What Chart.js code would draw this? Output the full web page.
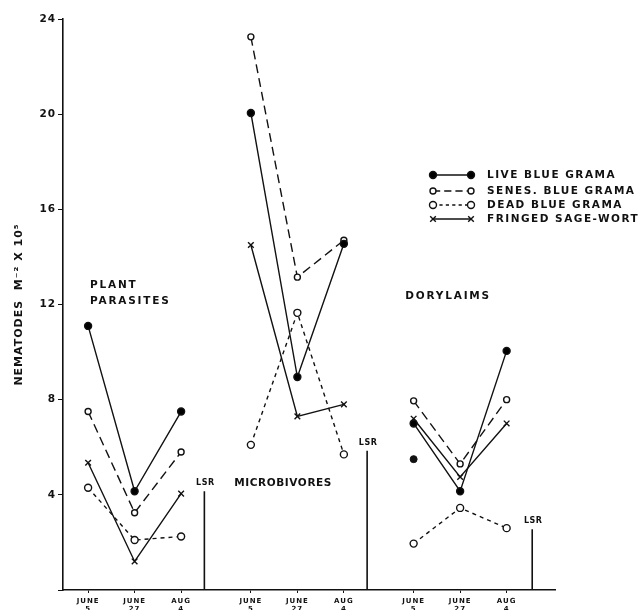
<!DOCTYPE html>
<html>
<head>
<meta charset="utf-8">
<script src="https://cdn.jsdelivr.net/npm/chart.js"></script>
<style>
  body { margin: 0; background: #fff; }
  #wrap { width: 640px; height: 610px; }
</style>
</head>
<body>
<div id="wrap"><canvas id="chart" width="640" height="610"></canvas></div>
<script>
// x value of the first date in each group (groups are spaced 1.5 units apart)
const groupStart = [0, 3.5, 7]
const groupNames = ['PLANT PARASITES', 'MICROBIVORES', 'DORYLAIMS']
const dateLabels = [['JUNE', '5'], ['JUNE', '27'], ['AUG', '4']]

// nematodes m^-2 x 10^5, one row per group, columns = June 5, June 27, Aug 4
const live    = [[11.1, 4.15, 7.5], [20.05, 8.95, 14.55], [7.0, 4.15, 10.05]]
const senes   = [[7.5, 3.25, 5.8], [23.25, 13.15, 14.7], [7.95, 5.3, 8.0]]
const dead    = [[4.3, 2.1, 2.25], [6.1, 11.65, 5.7], [1.95, 3.45, 2.6]]
const fringed = [[5.35, 1.2, 4.05], [14.5, 7.3, 7.8], [7.2, 4.75, 7.0]]
// the lone filled dot drawn under the Dorylaims June 5 column
const liveStray = [5.5]

// least significant range bars, one per group
const lsrX   = [2.5, 6.0, 9.55]
const lsrTop = [4.15, 5.85, 2.55]

const FONT = '"DejaVu Sans", sans-serif'

const toPoints = rows => {
    let pts = []
    rows.forEach((row, g) => {
        row.forEach((v, i) => pts.push({x: groupStart[g] + i, y: v}))
        if (g < rows.length - 1) pts.push({x: groupStart[g] + 2.75, y: null})
    })
    return pts
}

const tickValues = []
const tickText = {}
groupStart.forEach(s => dateLabels.forEach((d, i) => {
    tickValues.push(s + i)
    tickText[s + i] = d
}))

const lsrPoints = []
lsrX.forEach((x, i) => {
    lsrPoints.push({x: x, y: 0}, {x: x, y: lsrTop[i]})
    if (i < lsrX.length - 1) lsrPoints.push({x: x + 0.1, y: null})
})

const series = [
    {label: 'LIVE BLUE GRAMA', rows: live, dash: [], style: 'circle', fill: '#000', r: 3.5},
    {label: 'SENES. BLUE GRAMA', rows: senes, dash: [9, 5], style: 'circle', fill: '#fff', r: 3},
    {label: 'DEAD BLUE GRAMA', rows: dead, dash: [4, 4], style: 'circle', fill: '#fff', r: 3.5},
    {label: 'FRINGED SAGE-WORT', rows: fringed, dash: [], style: 'crossRot', fill: '#000', r: 4}
]

const datasets = series.map(s => ({
    label: s.label,
    data: toPoints(s.rows),
    showLine: true,
    spanGaps: false,
    borderColor: '#111',
    borderWidth: 1.4,
    borderDash: s.dash,
    pointStyle: s.style,
    pointRadius: s.r,
    pointBorderWidth: 1.4,
    pointBackgroundColor: s.fill,
    pointBorderColor: '#111'
}))
datasets.push({
    label: 'stray',
    data: liveStray.map(v => ({x: groupStart[2], y: v})),
    showLine: false,
    pointRadius: 3.5,
    pointBackgroundColor: '#111',
    pointBorderColor: '#111'
})
datasets.push({
    label: 'LSR',
    data: lsrPoints,
    showLine: true,
    spanGaps: false,
    borderColor: '#111',
    borderWidth: 1.6,
    pointRadius: 0
})

function drawMarker(ctx, style, x, y, r, fill) {
    ctx.save()
    ctx.setLineDash([])
    ctx.lineWidth = 1.4
    ctx.strokeStyle = '#111'
    if (style == 'crossRot') {
        ctx.beginPath()
        ctx.moveTo(x - r * 0.7, y - r * 0.7); ctx.lineTo(x + r * 0.7, y + r * 0.7)
        ctx.moveTo(x + r * 0.7, y - r * 0.7); ctx.lineTo(x - r * 0.7, y + r * 0.7)
        ctx.stroke()
    } else {
        ctx.beginPath()
        ctx.arc(x, y, r, 0, Math.PI * 2)
        ctx.fillStyle = fill
        ctx.fill()
        ctx.stroke()
    }
    ctx.restore()
}

const annotations = {
    id: 'annotations',
    beforeDraw(chart) {
        // the lettering in the original is widely spaced everywhere
        chart.ctx.letterSpacing = '1px'
    },
    afterDraw(chart) {
        const ctx = chart.ctx
        const xs = chart.scales.x, ys = chart.scales.y
        ctx.save()
        ctx.fillStyle = '#111'
        ctx.textBaseline = 'middle'
        ctx.textAlign = 'left'

        // group names
        ctx.font = 'bold 10.5px ' + FONT
        ctx.letterSpacing = '1.8px'
        ctx.fillText('PLANT', xs.getPixelForValue(0.04), ys.getPixelForValue(12.8))
        ctx.fillText('PARASITES', xs.getPixelForValue(0.04), ys.getPixelForValue(12.15))
        ctx.fillText(groupNames[2], xs.getPixelForValue(6.82), ys.getPixelForValue(12.35))
        ctx.letterSpacing = '0.6px'
        ctx.fillText(groupNames[1], xs.getPixelForValue(3.14), ys.getPixelForValue(4.5))

        // LSR labels
        ctx.font = 'bold 8px ' + FONT
        ctx.letterSpacing = '0.5px'
        ctx.textAlign = 'center'
        lsrX.forEach((x, i) => {
            ctx.fillText('LSR', xs.getPixelForValue(x) + 1, ys.getPixelForValue(lsrTop[i]) - 8)
        })

        // legend
        const rowsY = [175, 191, 205, 219]
        ctx.font = 'bold 10.5px ' + FONT
        ctx.letterSpacing = '1.5px'
        ctx.textAlign = 'left'
        series.forEach((s, i) => {
            const y = rowsY[i]
            ctx.save()
            ctx.strokeStyle = '#111'
            ctx.lineWidth = 1.4
            ctx.setLineDash(s.dash.length ? s.dash.map(d => d * 0.8) : [])
            ctx.beginPath()
            ctx.moveTo(433, y); ctx.lineTo(471, y)
            ctx.stroke()
            ctx.restore()
            drawMarker(ctx, s.style, 433, y, s.r, s.fill)
            drawMarker(ctx, s.style, 471, y, s.r, s.fill)
            ctx.fillText(s.label, 487, y + 0.5)
        })
        ctx.restore()
    }
}

new Chart(document.getElementById('chart').getContext('2d'), {
    type: 'scatter',
    data: {datasets: datasets},
    plugins: [annotations],
    options: {
        responsive: false,
        animation: false,
        layout: {padding: {left: 0, top: 19, right: 85, bottom: 0}},
        plugins: {legend: {display: false}, tooltip: {enabled: false}},
        scales: {
            x: {
                type: 'linear',
                min: -0.54,
                max: 10.04,
                afterFit: s => { s.height = 20 },
                afterBuildTicks: s => { s.ticks = tickValues.map(v => ({value: v})) },
                grid: {display: true, drawOnChartArea: false, drawTicks: true, tickLength: 3, color: '#111'},
                border: {display: true, color: '#111', width: 1.6},
                ticks: {
                    color: '#111',
                    padding: 4,
                    maxRotation: 0,
                    autoSkip: false,
                    font: {family: FONT, size: 7, weight: 'bold', lineHeight: 1.2},
                    callback: v => tickText[v] || ''
                }
            },
            y: {
                min: 0,
                max: 24,
                afterFit: s => { s.width = 63 },
                grid: {display: true, drawOnChartArea: false, drawTicks: true, tickLength: 5, color: '#111'},
                border: {display: true, color: '#111', width: 1.6},
                ticks: {
                    stepSize: 4,
                    color: '#111',
                    padding: 2,
                    font: {family: FONT, size: 10.5, weight: 'bold'},
                    callback: v => v == 0 ? '' : v
                },
                title: {
                    display: true,
                    text: 'NEMATODES  M\u207B\u00B2 X 10\u2075',
                    color: '#111',
                    padding: {top: 13, bottom: 0},
                    font: {family: FONT, size: 11, weight: 'bold'}
                }
            }
        }
    }
})
</script>
</body>
</html>
